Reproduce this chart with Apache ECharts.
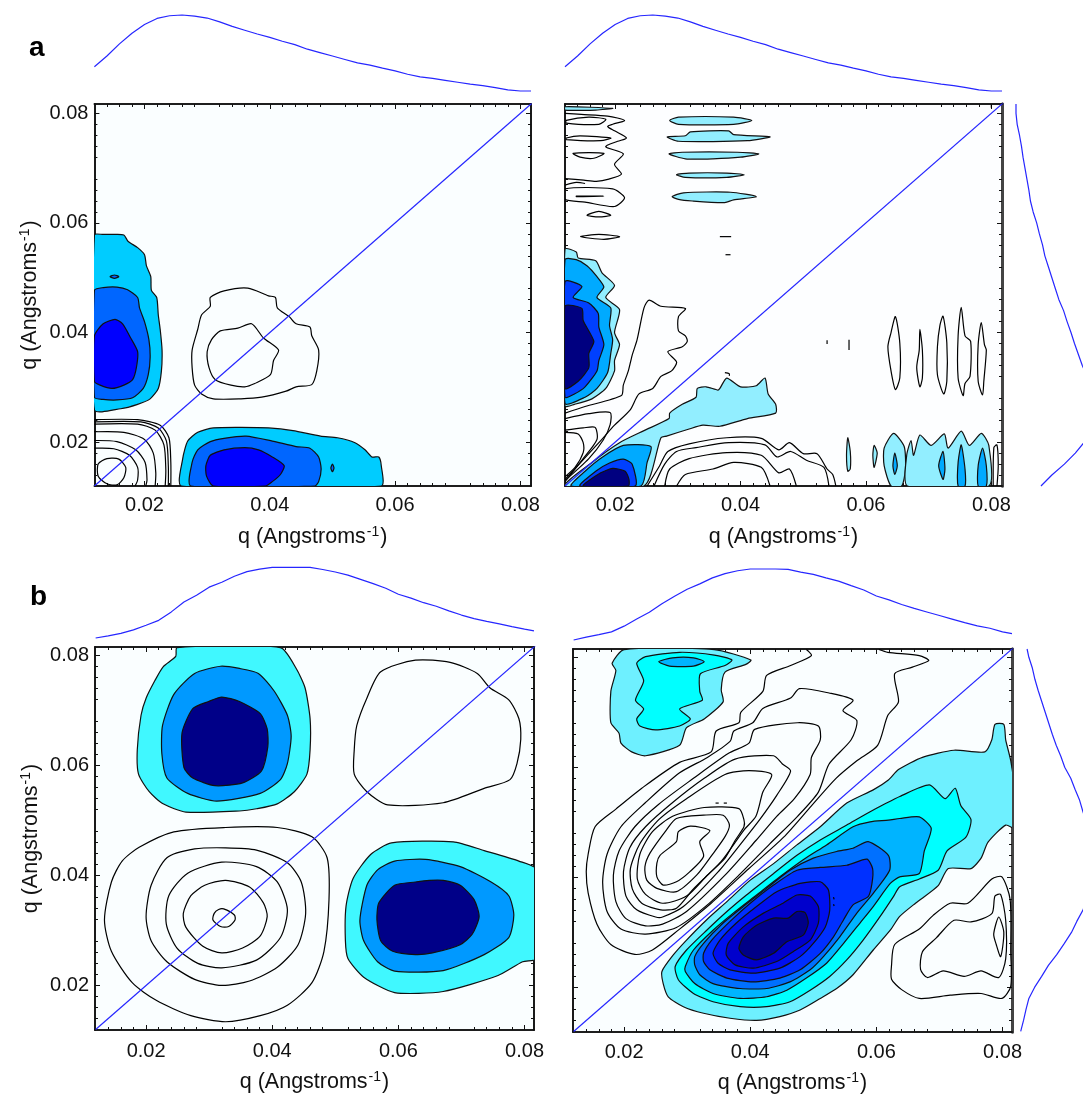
<!DOCTYPE html>
<html><head><meta charset="utf-8">
<style>html,body{margin:0;padding:0;background:#fff}#c{width:1083px;height:1097px}</style>
<script src="https://cdn.jsdelivr.net/npm/echarts@6/dist/echarts.min.js"></script>
</head><body><div id="c"></div>
<script>
// all q values below are in units of 0.001 inverse angstroms, [qx, qy]
const majorTicks=[0.02,0.04,0.06,0.08];
const minorTicks=[0.014,0.016,0.018,0.022,0.024,0.026,0.028,0.032,0.034,0.036,0.038,0.042,0.044,0.046,0.048,0.052,0.054,0.056,0.058,0.062,0.064,0.066,0.068,0.072,0.074,0.076,0.078];
const axisTitleMain='q (Angstroms';
const axisTitleSup='-1';
// marginal profiles: q in thousandths + relative value
const profileQ_a=[12,14,16,18,20,22,24,26,28,30,32,34,36,38,40,42,44,46,48,50,52,54,56,58,60,62,64,66,68,70,72,74,76,78,80,81.7];
const profileV_a=[.32,.46,.62,.76,.875,.955,.99,1,.985,.96,.91,.85,.8,.75,.705,.655,.61,.55,.505,.46,.415,.37,.34,.3,.265,.22,.185,.165,.14,.115,.09,.07,.045,.015,0,0];
const profileQ_b=[12,14,16,18,20,22,24,26,28,30,32,34,36,38,40,42,44,46,48,50,52,54,56,58,60,62,64,66,68,70,72,74,76,78,80,81.5];
const profileV_bL=[0,.03,.065,.115,.18,.25,.37,.51,.605,.72,.79,.875,.94,.975,1,1,1,1,.97,.935,.89,.83,.77,.705,.62,.565,.5,.45,.385,.325,.275,.235,.2,.16,.125,.1];
const profileV_bR=[0,.04,.075,.115,.195,.295,.39,.51,.615,.715,.79,.875,.935,.975,1,1,1,.995,.955,.925,.875,.83,.765,.705,.62,.565,.5,.445,.395,.345,.295,.245,.2,.165,.115,.09];
const diagonal=[[12,12],[82,82]];

// panel a, left
const aL_up1=[[12,57.8],[13.4,57.9],[15.1,57.9],[16.7,57.8],[17.4,56.6],[18.9,55.5],[20,54.2],[20.3,52.2],[21,50.2],[21.1,47.7],[21.95,46.4],[22.2,43.2],[22.5,40.6],[22.8,36.8],[22.7,33],[22.2,29.8],[20.9,27.9],[18.9,26.9],[16.2,26.1],[12,25.9]];
const aL_up2=[[12,47.7],[13.4,48.2],[15.6,48.3],[17.3,47.8],[18.9,46.4],[19.2,44.5],[20,42],[20.7,38.7],[20.9,35.5],[20.6,32.3],[19.8,29.8],[18.1,28.1],[15.6,27.7],[13.4,27.8],[12,28.2]];
const aL_up3=[[12,39.4],[13.4,41.6],[15.3,42.4],[16.5,41.6],[17.8,39],[18.9,36.5],[18.7,33.6],[18.1,31.4],[16.7,30.4],[14.8,29.8],[12.9,30.4],[12,31.1]];
const aL_dot1=[[14.5,50.2],[15.2,50.5],[15.9,50.2],[15.2,49.9]];
const aL_lo1=[[25.9,12],[26.1,17],[26.9,20.2],[28.5,21.8],[31,22.6],[35.4,22.7],[39.8,22.6],[43.7,22.1],[48.1,21.1],[50.8,20.8],[53.6,19.9],[55.2,18.6],[56.3,17.3],[57.4,17.3],[57.8,15.7],[57.8,12]];
const aL_lo2=[[27.4,12],[27.6,16.3],[28.5,18.6],[30.5,20.1],[32.7,20.7],[36.2,21.1],[40.4,20.2],[44.2,19.2],[46.4,18.9],[47.8,17.3],[48.2,15.1],[47.8,12.8],[47.2,12]];
const aL_lo3=[[31,12],[29.9,13.8],[29.8,15.7],[30.5,17.6],[32.7,18.6],[36,19],[38.2,18.6],[40.4,17.3],[42.3,15.7],[41.7,14.1],[40.4,12.8],[39.3,12]];
const aL_dot2=[[49.75,15.3],[50,16],[50.25,15.3],[50,14.6]];
const aL_c1=[[30.5,46.4],[32.7,47.6],[36.5,48.1],[39.8,46.7],[40.9,46.4],[41.2,44.5],[43.1,42.9],[44.2,41.6],[46.4,41],[46.7,39.4],[47.8,36.8],[47.5,33],[46.7,30.5],[44.2,30.1],[42.6,29.3],[38.7,28.2],[35.4,27.9],[31,27.9],[29.1,28.8],[28,30.4],[27.6,33.6],[27.6,36.8],[28.5,40.6],[29.1,43.2],[30.5,44.8]];
const aL_c2=[[32.1,40.3],[34.9,40.8],[37.1,41.6],[39,39],[41.4,36.8],[40.6,34.9],[40.1,32.3],[37.6,30.7],[36,30.1],[33.8,30.4],[31.3,31.4],[30.3,33.6],[30,36.5],[30.7,38.7]];
const aL_k1=[[12,24.1],[18.9,24.1],[22.5,23.1],[23.9,20.8],[24.2,16.3],[24.2,12]];
const aL_k2=[[12,23.7],[19.4,23.7],[22.2,22.6],[23.5,20.2],[23.8,15.7],[23.8,12]];
const aL_k3=[[12,23.3],[18.9,23.3],[21.7,22.2],[23.1,19.5],[23.4,15],[23.3,12]];
const aL_k4=[[12,21.9],[16.7,21.8],[20,20.5],[21.4,18],[21.8,14.4],[21.7,12]];
const aL_k5=[[12,20.3],[15.6,20.1],[18.6,18.6],[20.1,16.3],[20.4,13.1],[20.2,12]];
const aL_k6=[[12,18.9],[15.1,18.8],[17.6,17.6],[18.9,15.4],[18.9,13.1],[18.5,12]];
const aL_k7=[[12.6,16],[14,17],[15.9,16.9],[17,15.4],[16.7,13.5],[15.6,12.2],[14,12.4],[12.6,13.8]];

// panel a, right
const aR_b1=[[12,55.2],[13.8,54.7],[14.1,53.6],[16.9,53.1],[17.9,50.9],[19.9,48.6],[18.5,46.4],[20.7,44.2],[19.9,40],[20.7,37.8],[19.9,34.9],[19.9,33],[18.5,29.8],[16.3,27.9],[13.5,26.9],[12,26.6]];
const aR_b2=[[12,53.3],[13.8,53.3],[15.5,52.2],[17.1,50.2],[18.2,48.3],[17.1,46.4],[19.3,44.5],[19.1,41.3],[19.6,38.7],[19.3,36.2],[18.8,32.7],[17.1,29.8],[15.2,28.2],[12,27.1]];
const aR_b3=[[12,49.3],[14.7,48.4],[13.3,46.4],[15.8,45.4],[17.3,43.5],[17.4,41],[18.2,37.8],[17.4,34.9],[17.1,33],[15.2,30.1],[13.5,28.8],[12,28.2]];
const aR_b4=[[12,44.8],[14.7,44.4],[14.9,42.2],[16.6,38.4],[15.8,36.2],[15.8,33.6],[14.1,31.1],[12,29.8]];
const aR_r1=[[12,12],[16.3,16.3],[20.7,19.9],[24.6,22.1],[28.6,24.3],[28.7,25.3],[30.7,26.9],[32.9,28.2],[33.1,29.8],[34.5,30.1],[36.4,29.5],[36.7,29.8],[37.8,31.7],[40,30.1],[42.5,30.3],[43.9,31.7],[44.4,28.8],[45.6,26.9],[45.6,25.3],[41.1,24.3],[36.7,22.9],[34,23.1],[31.8,22.4],[28.2,21.1],[27.3,20.8],[24.6,12]];
const aR_r2=[[13,12],[15.2,14.7],[18,17.3],[21.3,19.4],[25.7,19.2],[25.1,16.3],[24.1,12]];
const aR_r3=[[14.4,12],[16.9,14.7],[19.1,16.2],[21.3,16.9],[22.7,16],[23.2,12]];
const aR_r4=[[14.9,12],[17.7,14.4],[19.6,15.2],[21.6,14.7],[22.2,13.2],[22.1,12]];
const aR_top=[[12,81.2],[19.6,80.9],[16.9,80.6],[12,80.6]];
const aR_s1=[[28.7,78.7],[30.1,79.3],[38.9,79.3],[41.8,78.7],[38.9,78],[30.1,78]];
const aR_s2=[[28.3,75.7],[31.2,75.9],[32,76.6],[38.1,76.8],[38.9,76.1],[44.7,75.7],[41.1,75],[30.1,74.9]];
const aR_s3=[[28.6,72.6],[30.7,72.9],[39.5,72.9],[42.9,72.6],[40,72],[35.6,71.7],[31.2,71.7]];
const aR_s4=[[29.8,68.8],[31.8,69.1],[37.8,69.1],[40.6,68.8],[37.8,68.3],[31.2,68.3]];
const aR_s5=[[29.1,64.8],[30.9,65.5],[38.4,65.6],[42.5,64.8],[38.9,64.2],[37.3,63.7],[32.3,64],[30.1,64.3]];
const aR_f1=[[57.1,20.8],[57.5,18.3],[57.5,15.1],[57.1,14.7],[56.9,17.6]];
const aR_f2=[[61.3,19.4],[61.8,18],[61.3,15.4],[61.1,17.6]];
const aR_f3=[[62.9,18.9],[64.4,21.6],[66.1,19.2],[66.3,15.1],[65.7,12],[64,12],[62.9,15.7]];
const aR_f4=[[66.6,12],[66.5,17.6],[67.2,20.3],[67.6,17.6],[68.6,21.3],[70.4,19.4],[72.5,21.5],[73.1,18.9],[75.2,22],[76.5,19.4],[78.4,21.6],[79.6,19.4],[79.6,12]];
const aR_i1=[[64.6,18],[65,15.7],[64.6,14.1],[64.3,15.7]];
const aR_i2=[[72.3,18.3],[72.6,15.1],[72.3,13.2],[71.6,15.7]];
const aR_i3=[[75.2,19.5],[75.8,15.1],[75.8,12],[74.7,12],[74.7,16.3]];
const aR_i4=[[78.6,18.9],[79.2,15.7],[79.2,12],[77.9,12],[77.9,15.7]];
const aR_a=[[12,25.3],[15.2,26.5],[21,28.5],[21.3,30.4],[22.1,33],[22.7,35.8],[23.5,38.7],[24.6,44.5],[25.4,45.9],[27.3,44.8],[31.2,44.4],[30.1,42.9],[30.1,40.3],[31.2,39.4],[31.5,38.4],[30.7,37.4],[28.4,36.5],[29.8,34.6],[29,33],[27.3,32],[26,29.8],[23.8,28.8],[22.4,25.9],[19.9,23.1],[17.4,19.9],[12,13.2]];
const aR_b=[[12,24.3],[15.8,25.2],[19.2,25.4],[19.2,23.2],[18.1,20.4],[15.8,17],[12,13]];
const aR_c=[[12,22.2],[14.9,22.6],[16.8,22.7],[17.1,20.5],[14.9,17],[12,12.8]];
const aR_d=[[12,21.8],[14.1,21.5],[14.9,19.9],[14.9,18.1],[13.6,15.4],[12,13.7]];
const aR_A=[[25.1,12],[27.1,15.7],[28.4,18.3],[31.8,19.7],[37.8,20.8],[43.3,20.7],[46.1,18.6],[47.8,19.9],[50,17.9],[52.2,17.9],[53.8,15.1],[54.7,14.1],[55.2,12]];
const aR_B=[[26.2,12],[27.9,16],[29.8,18.3],[32.9,19],[38.1,19.9],[43.9,19.5],[45.8,17.3],[48,18.3],[50.5,16.7],[53.3,15.4],[54.1,12]];
const aR_C=[[27.9,12],[28.7,15.1],[31.8,17],[37.8,18.1],[43.3,17.6],[46.1,14.4],[47.8,15.1],[48.9,12]];
const aR_D=[[29.8,12],[31.2,14.1],[35.6,15.1],[38.9,16.3],[43.3,15.4],[44.7,12]];
const aR_t0=[[12,80],[14.6,79.8],[18.8,79.5],[21.5,78.7],[19.6,78],[18.8,77.6],[19.9,76.8],[21.8,75.5],[20.4,74.9],[18.5,73.9],[21.3,72.6],[19.9,70.7],[21,68.9],[19,68],[17,67.6],[15,67.8],[12,68.1]];
const aR_t0b=[[12,66.9],[13.8,67.4],[15.2,67.2]];
const aR_t1=[[12.2,78.7],[15.8,79.3],[18.5,78.9],[17.4,78],[12.2,78.2]];
const aR_t2=[[12.2,75.5],[14.4,75.9],[19.3,75.5],[17.7,75],[12.2,75.2]];
const aR_t3=[[13.3,72.7],[18.2,72.7],[16.6,71.8],[14.4,72]];
const aR_t4=[[13.8,64.9],[18.2,64.9],[13.8,64.8]];
const aR_t5=[[15.5,61.4],[17.4,62.1],[19.3,61.4],[17.4,61.1]];
const aR_t6=[[14.5,57.5],[17.4,57.9],[20.7,57.5],[18.2,57]];
const aR_t7=[[12,66.2],[19.6,66.2],[21.5,64.6],[19.9,63],[15.2,63.8],[12,64.3]];
const aR_m1=[[36.7,57.5],[38.5,57.5]];
const aR_m2=[[37.6,54.2],[38.4,54.2]];
const aR_m3=[[37.5,32.7],[38.2,32.5],[38.2,32.1]];
const aR_v1=[[64.7,42.9],[65.4,38.1],[65.4,31.7],[64.7,29.6],[64,33],[63.5,37.4],[64,40]];
const aR_v2=[[68.6,40.6],[69,36.8],[69,31.7],[68.6,30.1],[68.1,33.6],[68.5,36.8]];
const aR_v3=[[72.3,43],[72.9,38.1],[72.9,31.1],[72.4,28.8],[71.4,32.3],[71.4,37.4],[71.8,41.3]];
const aR_v4=[[75.2,44.6],[75.8,39.4],[76.7,38.4],[76.6,32],[75.8,30.7],[75.5,28.5],[74.7,31.7],[74.7,39.4]];
const aR_v5=[[78.4,41.8],[78.9,37.8],[79.2,36.8],[78.8,31.1],[78.6,28.6],[77.9,31.1],[77.9,37.8]];
const aR_m4=[[53.8,38.6],[53.8,37.9]];
const aR_m5=[[57.3,38.7],[57.3,36.8]];
const aR_m6=[[80.3,12],[80.4,19],[80.9,19.5],[81.1,15.7],[80.9,12]];
const aR_m7=[[80,81.6],[80,81]];

// panel b, left
const bL_u1=[[24.9,81.4],[24.7,79.8],[22.7,77.9],[21.4,75.4],[20,72.2],[19.2,69.1],[18.6,62.8],[18.8,58.4],[20.5,55.2],[22.7,53],[26.3,51.5],[34.8,51.7],[37.5,52.1],[40.8,53],[43.5,55.2],[45.5,58.4],[46,62.8],[46,68.5],[45.2,74.1],[43.8,77.6],[41.3,81.4]];
const bL_u2=[[31.8,78],[34.8,77.6],[37.8,76.7],[40.3,73.5],[42.4,69.1],[43,65.3],[42.4,60.3],[41.3,57.4],[38.1,54.9],[31.2,53.5],[26.6,54.9],[23.3,57.7],[22.5,62.1],[22.6,67.2],[24.4,72.9],[27.7,76.7]];
const bL_u3=[[32,72.4],[34.8,71.6],[38.1,69.4],[39.2,66.6],[39.3,63.4],[38.3,59],[35.3,56.8],[30.9,56.3],[27.4,57.7],[26,59.6],[25.7,65.9],[27.4,70.3],[29.9,71.6]];
const bL_l1=[[58.9,45.9],[68.7,46.1],[73.6,44.5],[79.1,42.6],[82,41],[82,24.9],[79.7,24.3],[75.8,21.8],[67.1,18.9],[59.4,18.7],[54.5,21.5],[52,24.9],[51.6,28.1],[51.7,34.4],[52.8,39.4],[55.6,43.8]];
const bL_l2=[[59.4,42.6],[64.3,42.9],[69.8,41.6],[74.7,38.8],[77.5,36.3],[78.3,32.8],[77.5,28.7],[73.6,25.6],[67.1,22.7],[59.4,22.6],[56.7,24.3],[54.5,28.1],[53.9,31.9],[55,38.2],[56.7,41]];
const bL_l3=[[59.4,38.2],[62.7,38.8],[64.9,39.1],[67.1,39.1],[69.8,38.2],[72,35.6],[72.8,32.5],[71.7,29.3],[69.8,27.4],[65.4,25.9],[62.7,25.6],[59.1,26.2],[57.2,28.1],[56.6,31.9],[56.9,35]];
const bL_ur=[[57.2,77],[62.7,79.1],[68.2,78.7],[72.5,76.7],[74.5,74.1],[77.5,71.9],[79.1,68.5],[79.4,64.7],[78.8,60.3],[77.7,57.4],[73.6,55.8],[67.1,53.2],[58.3,52.8],[55,55.2],[53,58.4],[53,62.8],[53.4,67.2],[55,72.2]];
const bL_c0=[[18.9,45.1],[24.4,47.9],[32.6,48.7],[40.8,48.7],[46.3,47],[48.7,43.2],[49,35.6],[48.2,26.2],[46.3,20.5],[42.4,16.4],[38.1,14.5],[32.6,13.4],[27.1,14.5],[21.6,17.3],[17.8,20.5],[14.5,26.2],[13.4,31.9],[14.5,38.8],[16.2,42.6]];
const bL_c1=[[23.3,43.2],[27.7,44.8],[32.6,45],[37.5,44.6],[42.4,42.3],[44.6,38.8],[45.3,33.1],[44.1,27.4],[40.8,23.3],[36.4,20.8],[32,20],[27.7,21.1],[23.3,24.3],[20.8,28.1],[20,32.5],[20.8,38.2]];
const bL_c2=[[26.6,40.4],[32,42.4],[37.5,41.6],[40.8,38.8],[42.4,33.8],[41.3,28.7],[37.5,24.6],[32,23.2],[28.2,24],[24.9,26.8],[23.2,31.2],[23.6,36.3]];
const bL_c3=[[29.3,38.2],[32.6,39.1],[36.4,37.9],[38.6,35],[39.2,32.5],[38.1,29],[35.3,26.8],[32,25.9],[29,27.1],[26.3,30.6],[25.9,33.1],[27.1,36.3]];
const bL_c4=[[31.5,33.8],[32.3,33.9],[34,32.8],[34.1,31.9],[33.1,30.7],[31.8,30.7],[30.6,31.9],[30.8,33.1]];

// panel b, right
const bR_1=[[26,22.9],[27.8,25.9],[29.9,28.6],[33.1,32.3],[36.3,35.6],[40,39.5],[43.7,42.5],[47.4,45.9],[51.1,49.2],[55.3,53.5],[59.5,55.9],[61.9,57.7],[63.5,59.6],[67.3,61.8],[72.3,63.1],[77.2,62.8],[78.3,65],[78.8,67.8],[80.2,67.8],[80.5,65],[81.3,61.2],[82,55],[82,48.9],[80.5,49.5],[77.7,46.4],[76.6,43.5],[75,41.6],[71.4,41.6],[69.8,38.5],[66.2,35.3],[63.7,32.9],[62.2,30.4],[59.5,26.8],[56.3,22.3],[53.7,19.8],[51.1,18],[47.9,15.9],[44.7,14.7],[41,14],[36.8,14.4],[32.6,15.3],[29.4,16.5],[27,18.3],[26.2,20.7]];
const bR_2=[[28.1,23.8],[29.9,26.8],[33.1,30.4],[36.3,33.8],[39.4,36.8],[43.7,40.7],[47.4,44],[51.1,46.8],[55.3,49.5],[58.5,51.6],[61.6,53.5],[63.7,54.7],[68.4,56.8],[70.9,54.3],[72.5,56.2],[73.4,53],[75,50.5],[74.2,47.3],[71.2,44.8],[69.8,41.3],[66.8,39.7],[63.7,38.3],[62.7,36.5],[60.6,32.9],[57.9,28.6],[55.3,25],[52.6,22],[49.5,19.5],[46.3,17.4],[42.6,16.5],[38.4,16.5],[34.1,17.4],[31,18.9],[28.6,21.4]];
const bR_3=[[29.7,23.8],[31,26.8],[34.1,30.4],[37.3,33.5],[41,36.8],[44.7,40.1],[48.4,43.2],[52.1,45.9],[56.3,49.2],[59,50.1],[61.9,50.4],[63.7,50.7],[66.8,51],[68.7,48.9],[67.6,44.8],[66.8,40.7],[63.7,40.1],[62.2,38.9],[59.5,34.7],[57.4,31.7],[54.8,28],[52.1,24.4],[48.9,21.7],[45.8,19.5],[42.6,18.3],[38.4,18],[34.1,18.9],[31.2,20.7],[29.7,22.9]];
const bR_4=[[31.2,25.6],[32.6,28],[35.7,31.7],[38.9,34.7],[42.6,38],[46.3,41.3],[50,43.5],[53.7,44.7],[56.3,45.3],[58.7,46.5],[61.9,44],[62.1,41.3],[59.5,37.1],[56.9,33.5],[54.2,29.2],[51.6,25.6],[49.5,23.2],[46.3,21],[42.6,19.8],[38.4,19.8],[34.1,20.7],[32,22.3],[31.2,24.1]];
const bR_5=[[32.6,26.2],[33.9,28.6],[36.8,32],[40,35.3],[43.7,38.6],[47.4,41.3],[51.1,41.8],[55.3,42.2],[58.5,43.3],[59.4,41.6],[59.3,38.9],[58.7,36.5],[56.3,35],[54.8,32.3],[53.2,29.2],[51.1,26.2],[47.9,23.2],[44.7,21.7],[40.5,21],[36.3,21.7],[33.6,23.2],[32.6,24.7]];
const bR_6=[[34.1,26.2],[35.2,28.6],[37.8,31.7],[41,34.7],[44.2,37.4],[47.9,38.9],[51.1,39.2],[52.4,37.7],[52.6,34],[51.9,31],[50,28],[47.9,25.6],[44.7,23.5],[40.5,22.6],[36.8,23.2],[34.9,24.4]];
const bR_7=[[36.2,25.9],[36.5,28],[38.9,31],[42.1,33.5],[45.2,35.3],[47.4,36.8],[49.5,36.6],[50.8,34.7],[50.8,31.7],[49.5,28.6],[46.8,26.5],[44.2,24.7],[40.5,23.5],[37.6,24.1]];
const bR_8=[[38.2,27.1],[38.9,29.2],[41,31.3],[43.7,32.6],[46,32.6],[47.4,33.8],[48.7,33.6],[49.2,31.7],[48.4,29.5],[45.8,28.3],[43.7,26.2],[41,25],[38.9,25.9]];
const bR_u1=[[18.1,78.9],[20,81.4],[34.3,81.4],[40.1,79.5],[39.3,78.7],[36,77.3],[35.4,74.1],[35.7,71.9],[32.7,68.8],[29.9,67.2],[28.8,64],[23.4,62.1],[21.2,62.8],[19.5,64.4],[19.2,66.2],[17.9,68.1],[17.9,73.8],[18.7,77.6]];
const bR_u2=[[22,78.9],[23.4,80.1],[28.8,80.9],[34.3,80.4],[37.1,79.5],[36,78.5],[32.1,77],[32,73.8],[32.4,72.2],[28.8,70.6],[30.5,68.8],[28.8,67.5],[25,66.8],[22.5,67.5],[22,68.8],[23.1,70.6],[21.8,72.2],[23.1,75.7]];
const bR_u3=[[25.5,79.2],[27.7,79.9],[31,79.9],[32.7,79.2],[31,78.4],[27.2,78.4]];
const bR_p1=[[48.9,81.4],[49.7,80.3],[46.4,78.5],[42.6,76.7],[42,73.8],[38.5,70],[38.2,68.1],[34.6,66.6],[33.8,62.8],[28.8,60.9],[22.8,56.2],[18.7,52.4],[15.4,49.2],[14.3,44.2],[14,41],[14.3,37.2],[15.7,31.5],[17.9,27.8],[21.7,26],[24.5,26.8],[28.8,30.6],[33.8,35.3],[39.8,41.6],[45.3,47.3],[49.7,53],[53.6,58],[56.9,61.2],[60.2,64],[61.8,69.4],[63.5,71.9],[62.9,77],[65.7,78.2],[68.3,79.4],[66.8,80.3],[61.8,80.9],[60.4,81.4]];
const bR_p2=[[23.4,29.7],[19.5,30.6],[17.3,33.8],[16.6,39.1],[17.3,44.2],[19.5,49.2],[23.4,53.6],[28.8,59],[33.2,61.8],[36.8,64.7],[37.4,66.6],[40.4,68.1],[42,70.7],[46.4,72.6],[47.8,74.3],[52.5,73.5],[56.3,72.2],[54.7,70.3],[56.9,68.5],[56,65],[52.5,60.6],[50.8,55.5],[47.5,51.1],[43.1,46.1],[38.2,40.4],[33.2,35],[28.3,30.9]];
const bR_p3=[[23.4,31.2],[20.3,32.5],[18.7,35.6],[18.3,40.4],[19.2,44.8],[21.7,49.2],[25.5,53.3],[31,58],[36.5,62.5],[39.8,64.4],[40.7,66.9],[47.5,68.1],[50.8,67.5],[51.1,65],[49.7,61.8],[49.5,58.7],[47,54.3],[44.2,51.1],[40.9,46.7],[36,40.4],[29.9,33.8],[26.1,31.5]];
const bR_p4=[[25,32.8],[22,34.1],[20.3,36.6],[19.9,41],[20.9,45.4],[23.4,49.2],[27.7,53.6],[32.7,58],[37.6,61.5],[43.7,62.1],[45.1,60.6],[46.4,59.3],[44.2,54.9],[41.5,50.5],[38.5,46.1],[34.9,41],[29.4,34.7],[26.1,32.8]];
const bR_p5=[[25.8,34.1],[22.8,35.3],[21.3,37.9],[21,41.6],[22.5,46.1],[25.5,50.5],[29.9,54.3],[36,58.7],[39.8,59.4],[43.4,58.7],[42,55.5],[40.9,51.1],[39,48.6],[35.4,42.9],[31,37.9],[28.3,34.4]];
const bR_p6=[[26.1,35.3],[23.4,36.9],[22.1,39.7],[22.5,44.2],[24.5,48.3],[27.7,51.1],[32.7,52.7],[38.2,52.5],[39,50.5],[39,49.2],[37.6,46.7],[36,43.5],[33.2,40.4],[29.9,36.6]];
const bR_p7=[[23.3,41.9],[24.1,44.4],[26.7,48.6],[28.3,50.7],[32.6,51.3],[35.7,51.3],[36.7,49.5],[36,47.4],[33.9,44],[31.5,40.4],[28.3,37.4],[25.2,38],[23.6,39.5]];
const bR_p8=[[25.2,42.6],[25.7,44],[28.3,46.5],[28.6,48.3],[30.5,49.3],[33.6,48.5],[32,46.5],[32.6,43.8],[30.4,41],[28.3,39.2],[26.2,38.6],[25.2,40.1]];
const bR_w1=[[62.4,24],[62.9,27.8],[66.8,30.6],[69,33.1],[71.7,35.3],[74.5,35.3],[78.3,39.7],[79.9,40.1],[81.2,36],[81.3,26.5],[81.3,20.2],[79.9,18],[76.6,18.9],[71.7,18.6],[66.8,18],[64,19.6],[62.4,21.5]];
const bR_w2=[[67,23.3],[67.3,26.5],[69.5,29],[72.3,32.2],[75,31.9],[78.3,33.4],[78.8,36.6],[79.7,36.9],[80.5,32.2],[80.5,25.2],[79.4,21.8],[76.6,23],[73.9,22],[70.6,23],[68.1,21.8]];
const bR_w3=[[79.4,32.8],[80.2,30],[79.7,25.6],[79,27.8],[78.6,29.7]];
const bR_m1=[[34.5,53.5],[35,53.5]];
const bR_m2=[[35.8,53.5],[36.3,53.5]];
const bR_m3=[[53.2,36.4],[53.3,36]];
const bR_m4=[[53.2,35.1],[53.3,34.8]];

const fill=(pts,color)=>({pts,color,closed:true});
const line=(pts,closed)=>({pts,closed:!!closed,color:null});

const aA1='#00CCFF',aA2='#0066FF',aA3='#0000FF';
const aB1='#92EEFF',aB2='#00AAFF',aB3='#0040FF',aB4='#000080';
const bA1='#40F8FF',bA2='#0099FF',bA3='#000088';
const bB=['#6EF0FF','#00FFFF','#00B4FF','#0070FF','#0030FF','#0010F0','#0000CC','#000088'];

const panels=[
 {key:'aL',box:[94.4,531,104,486],prof:[15,91],range:[.012,.0817],bg:'#FAFEFF',thick:false,yLabels:true,labelMargin:9,nameGap:39,profQ:profileQ_a,profV:profileV_a,
  layers:[fill(aL_up1,aA1),fill(aL_up2,aA2),fill(aL_up3,aA3),fill(aL_dot1,aA2),fill(aL_lo1,aA1),fill(aL_lo2,aA2),fill(aL_lo3,aA3),fill(aL_dot2,aA2),line(aL_c1,1),line(aL_c2,1),line(aL_k1),line(aL_k2),line(aL_k3),line(aL_k4),line(aL_k5),line(aL_k6),line(aL_k7,1)]},
 {key:'aR',box:[565,1002,104,486],prof:[15,91],range:[.012,.0817],bg:'#FDFEFF',thick:true,yLabels:false,labelMargin:9,nameGap:39,profQ:profileQ_a,profV:profileV_a,side:[1016,1094],
  layers:[fill(aR_r1,aB1),fill(aR_r2,aB2),fill(aR_r3,aB3),fill(aR_r4,aB4),fill(aR_b1,aB1),fill(aR_b2,aB2),fill(aR_b3,aB3),fill(aR_b4,aB4),fill(aR_top,aB1),fill(aR_s1,aB1),fill(aR_s2,aB1),fill(aR_s3,aB1),fill(aR_s4,aB1),fill(aR_s5,aB1),fill(aR_f1,aB1),fill(aR_f2,aB1),fill(aR_f3,aB1),fill(aR_f4,aB1),fill(aR_i1,aB2),fill(aR_i2,aB2),fill(aR_i3,aB2),fill(aR_i4,aB2),
   ...[aR_a,aR_b,aR_c,aR_d,aR_A,aR_B,aR_C,aR_D,aR_t0,aR_t0b,aR_m1,aR_m2,aR_m3,aR_m4,aR_m5,aR_m6,aR_m7].map(p=>line(p)),
   ...[aR_t1,aR_t2,aR_t3,aR_t4,aR_t5,aR_t6,aR_t7,aR_v1,aR_v2,aR_v3,aR_v4,aR_v5].map(p=>line(p,1))]},
 {key:'bL',box:[95,534,647,1030],prof:[567.4,638],range:[.0119,.0815],bg:'#FAFEFF',thick:false,yLabels:true,labelMargin:11,nameGap:40,profQ:profileQ_b,profV:profileV_bL,
  layers:[fill(bL_u1,bA1),fill(bL_u2,bA2),fill(bL_u3,bA3),fill(bL_l1,bA1),fill(bL_l2,bA2),fill(bL_l3,bA3),...[bL_ur,bL_c0,bL_c1,bL_c2,bL_c3,bL_c4].map(p=>line(p,1))]},
 {key:'bR',box:[573,1012,649,1032],prof:[569,640],range:[.0119,.0815],bg:'#FAFEFF',thick:true,yLabels:false,labelMargin:10,nameGap:39,profQ:profileQ_b,profV:profileV_bR,side:[1020.7,1091.7],
  layers:[fill(bR_1,bB[0]),fill(bR_2,bB[1]),fill(bR_3,bB[2]),fill(bR_4,bB[3]),fill(bR_5,bB[4]),fill(bR_6,bB[5]),fill(bR_7,bB[6]),fill(bR_8,bB[7]),fill(bR_u1,bB[0]),fill(bR_u2,bB[1]),fill(bR_u3,bB[2]),
   line(bR_p1),line(bR_p2,1),line(bR_p3,1),line(bR_p4,1),line(bR_p5,1),line(bR_p6,1),line(bR_p7,1),line(bR_p8,1),line(bR_w1,1),line(bR_w2,1),line(bR_w3,1),line(bR_m1),line(bR_m2),line(bR_m3),line(bR_m4)]}
];

const FONT='"Liberation Sans",Arial,sans-serif';
const nameRich={a:{fontFamily:FONT,fontSize:21.5,color:'#111'},s:{fontFamily:FONT,fontSize:14,color:'#111',verticalAlign:'top',lineHeight:24,padding:[0,1,7,1]}};
const nameFmt='{a|'+axisTitleMain+'}{s|'+axisTitleSup+'}{a|)}';

const grid=[],xAxis=[],yAxis=[],series=[];
const toQ=p=>[p[0]/1000,p[1]/1000];
const BLUE='#2626FF';
panels.forEach(p=>{
 const [L,R,T,B]=p.box;
 const g=grid.length;
 grid.push({left:L,top:T,width:R-L,height:B-T,show:true,backgroundColor:p.bg,borderWidth:0,outerBoundsMode:'none'});
 const xi=xAxis.length, yi=yAxis.length;
 const axis=(pos,vals,len,extra)=>Object.assign({type:'value',gridIndex:g,position:pos,min:p.range[0],max:p.range[1],
   axisLine:{show:true,onZero:false,lineStyle:{color:'#111',width:1.6}},
   axisTick:{show:true,inside:true,length:len,customValues:vals,lineStyle:{color:'#111',width:1}},
   axisLabel:{show:false},splitLine:{show:false},silent:true},extra||{});
 const lab={show:true,customValues:majorTicks,formatter:v=>v.toFixed(2),fontFamily:FONT,fontSize:20,color:'#111',hideOverlap:false,showMinLabel:true,showMaxLabel:true};
 xAxis.push(axis('bottom',majorTicks,5,{axisLabel:Object.assign({margin:p.labelMargin},lab),name:nameFmt,nameLocation:'middle',nameMoveOverlap:false,nameGap:p.nameGap,nameTextStyle:{rich:nameRich}}));
 xAxis.push(axis('bottom',minorTicks,3));
 xAxis.push(axis('top',majorTicks,5));
 xAxis.push(axis('top',minorTicks,3));
 yAxis.push(axis('left',majorTicks,5,p.yLabels?{axisLabel:Object.assign({margin:6},lab),name:nameFmt,nameLocation:'middle',nameMoveOverlap:false,nameGap:52,nameRotate:90,nameTextStyle:{rich:nameRich}}:{}));
 yAxis.push(axis('left',minorTicks,3));
 const rightStyle=p.thick?{axisLine:{show:true,onZero:false,lineStyle:{color:'#444',width:3}}}:{};
 yAxis.push(axis('right',majorTicks,5,rightStyle));
 yAxis.push(axis('right',minorTicks,3,rightStyle));
 // contours
 const lays=p.layers;
 series.push({type:'custom',name:p.key,xAxisIndex:xi,yAxisIndex:yi,clip:true,silent:true,animation:false,z:2,
  data:lays.map(l=>toQ(l.pts[0])),
  renderItem:(params,api)=>{
   const l=lays[params.dataIndex];
   const points=l.pts.map(q=>api.coord(toQ(q)));
   if(l.color) return {type:'polygon',shape:{points,smooth:.22},style:{fill:l.color,stroke:'#111',lineWidth:1.2}};
   if(l.closed) return {type:'polygon',shape:{points,smooth:.25},style:{fill:'none',stroke:'#000',lineWidth:1.2}};
   return {type:'polyline',shape:{points,smooth:.25},style:{fill:'none',stroke:'#000',lineWidth:1.2}};
  }});
 series.push({type:'line',xAxisIndex:xi,yAxisIndex:yi,data:diagonal.map(toQ),showSymbol:false,silent:true,animation:false,clip:true,z:3,lineStyle:{color:BLUE,width:1.2}});
 // top marginal
 const gt=grid.length;
 grid.push({left:L,top:p.prof[0],width:R-L,height:p.prof[1]-p.prof[0],outerBoundsMode:'none'});
 xAxis.push({type:'value',gridIndex:gt,min:p.range[0],max:p.range[1],show:false});
 yAxis.push({type:'value',gridIndex:gt,min:0,max:1,show:false});
 series.push({type:'line',xAxisIndex:xAxis.length-1,yAxisIndex:yAxis.length-1,data:p.profQ.map((q,i)=>[q/1000,p.profV[i]]),showSymbol:false,silent:true,animation:false,clip:false,z:3,lineStyle:{color:BLUE,width:1.2}});
 if(p.side){
  const gs=grid.length;
  grid.push({left:p.side[0],top:T,width:p.side[1]-p.side[0],height:B-T,outerBoundsMode:'none'});
  xAxis.push({type:'value',gridIndex:gs,min:0,max:1,show:false});
  yAxis.push({type:'value',gridIndex:gs,min:p.range[0],max:p.range[1],show:false});
  series.push({type:'line',xAxisIndex:xAxis.length-1,yAxisIndex:yAxis.length-1,data:p.profQ.map((q,i)=>[p.profV[i],q/1000]),showSymbol:false,silent:true,animation:false,clip:false,z:3,lineStyle:{color:BLUE,width:1.2}});
 }
});

const chart=echarts.init(document.getElementById('c'),null,{renderer:'canvas'});
chart.setOption({animation:false,backgroundColor:'#fff',
 title:[{text:'a',left:24,top:29,textStyle:{fontFamily:FONT,fontSize:28,fontWeight:'bold',color:'#000'}},{text:'b',left:25,top:578,textStyle:{fontFamily:FONT,fontSize:28,fontWeight:'bold',color:'#000'}}],
 grid,xAxis,yAxis,series});
</script></body></html>
